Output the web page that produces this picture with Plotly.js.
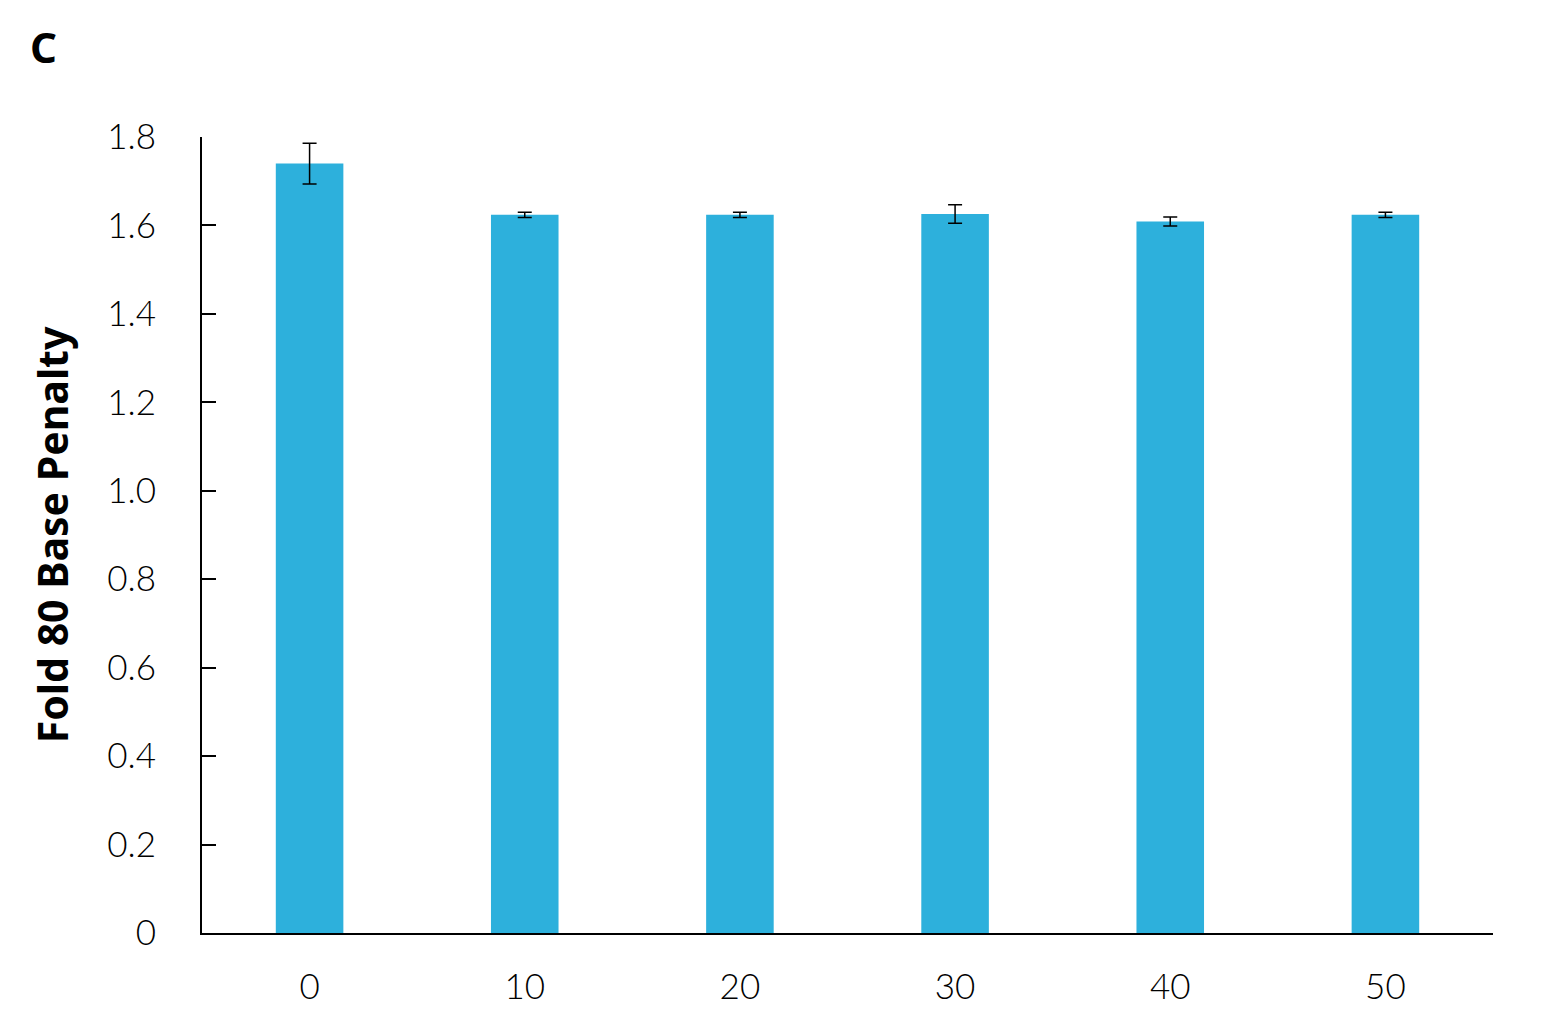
<!DOCTYPE html>
<html>
<head>
<meta charset="utf-8">
<script src="https://cdn.plot.ly/plotly-3.0.1.min.js"></script>
<style>html,body{margin:0;padding:0;background:#fff;}</style>
</head>
<body>
<div id="chart" style="width:1561px;height:1033px;"></div>
<script>
const categories = ["0", "10", "20", "30", "40", "50"];
const values = [1.740, 1.624, 1.624, 1.626, 1.609, 1.624];
const errors = [0.046, 0.006, 0.006, 0.021, 0.010, 0.006];
const yTicks = [0, 0.2, 0.4, 0.6, 0.8, 1.0, 1.2, 1.4, 1.6, 1.8];
const yTickLabels = ["0", "0.2", "0.4", "0.6", "0.8", "1.0", "1.2", "1.4", "1.6", "1.8"];

const trace = {
  type: "bar",
  x: categories,
  y: values,
  marker: {color: "#2DB0DC"},
  error_y: {type: "data", array: errors, visible: true, color: "#000", thickness: 1.5, width: 7},
  hoverinfo: "skip"
};

const layout = {
  width: 1561, height: 1033,
  margin: {l: 202, r: 68, t: 137, b: 100},
  paper_bgcolor: "#fff", plot_bgcolor: "#fff",
  bargap: 0.686,
  showlegend: false,
  font: {family: "Lato, 'Noto Sans', sans-serif", color: "#000", weight: 300},
  xaxis: {
    type: "category",
    showline: true, linecolor: "#000", linewidth: 2,
    ticks: "", showgrid: false, zeroline: false,
    tickfont: {size: 35, family: "Lato, 'Noto Sans', sans-serif", weight: 300},
    ticklabelstandoff: 22
  },
  yaxis: {
    range: [0, 1.8],
    tickvals: yTicks, ticktext: yTickLabels,
    showline: true, linecolor: "#000", linewidth: 2,
    ticks: "inside", ticklen: 14, tickwidth: 2, tickcolor: "#000",
    showgrid: false, zeroline: false,
    tickfont: {size: 35, family: "Lato, 'Noto Sans', sans-serif", weight: 300},
    ticklabelstandoff: 37,
    title: {text: "Fold 80 Base Penalty", font: {size: 41, family: "'Noto Sans', Lato, sans-serif", weight: 700}, standoff: 26}
  },
  annotations: [{
    text: "C", xref: "paper", yref: "paper", x: 0, y: 1, xanchor: "left", yanchor: "top",
    xshift: -174, yshift: 121, showarrow: false,
    font: {size: 42, family: "'Noto Sans', sans-serif", weight: 700, color: "#000"}
  }]
};

Plotly.newPlot("chart", [trace], layout, {displayModeBar: false, staticPlot: true});
</script>
</body>
</html>
